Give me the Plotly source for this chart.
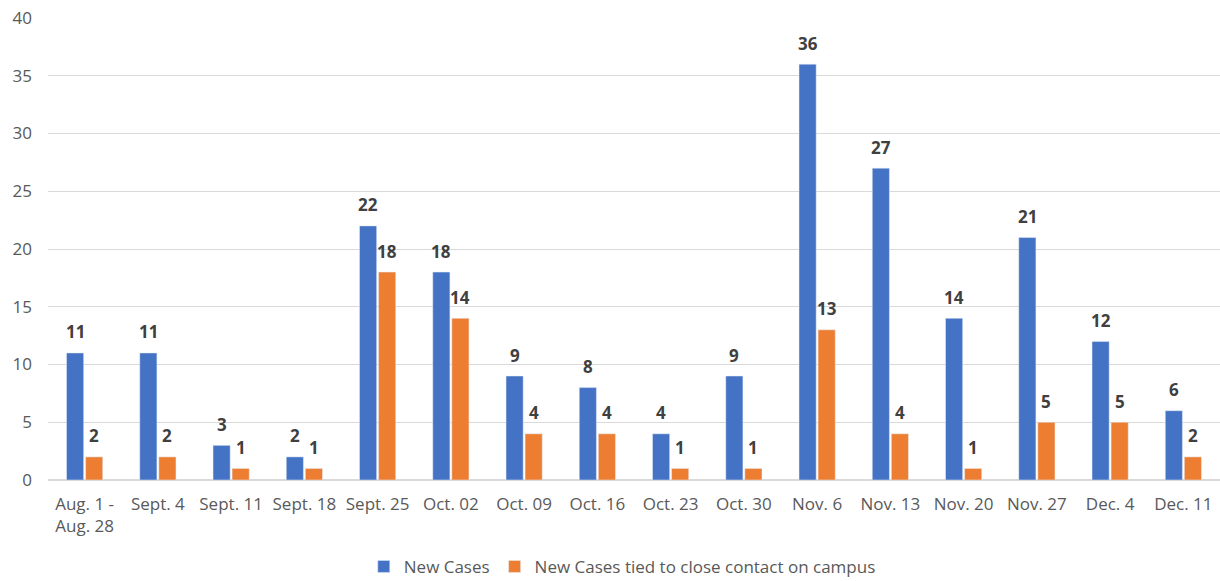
import plotly.graph_objects as go

categories = ["Aug. 1 -<br>Aug. 28", "Sept. 4", "Sept. 11", "Sept. 18", "Sept. 25", "Oct. 02",
              "Oct. 09", "Oct. 16", "Oct. 23", "Oct. 30", "Nov. 6", "Nov. 13", "Nov. 20",
              "Nov. 27", "Dec. 4", "Dec. 11"]
new_cases = [11, 11, 3, 2, 22, 18, 9, 8, 4, 9, 36, 27, 14, 21, 12, 6]
close_contact = [2, 2, 1, 1, 18, 14, 4, 4, 1, 1, 13, 4, 1, 5, 5, 2]
y_ticks = [0, 5, 10, 15, 20, 25, 30, 35, 40]

FONT = "Open Sans"
BLUE = "#4472C4"
ORANGE = "#ED7D31"

fig = go.Figure()
fig.add_bar(x=categories, y=new_cases, name="New Cases", marker_color=BLUE)
fig.add_bar(x=categories, y=close_contact, name="New Cases tied to close contact on campus",
            marker_color=ORANGE)

# data labels above each bar (value taken from the data arrays)
label_font = dict(family=FONT, size=17, color="#404040", weight="bold")
for series, dx in ((new_cases, -9.5), (close_contact, 9.5)):
    for cat, val in zip(categories, series):
        fig.add_annotation(x=cat, y=val, xref="x", yref="y", text=str(val),
                           showarrow=False, xshift=dx, yshift=21, font=label_font)

fig.update_layout(
    width=1220, height=581,
    barmode="group", bargap=0.48, bargroupgap=0.1,
    plot_bgcolor="white", paper_bgcolor="white",
    margin=dict(l=48, r=0, t=18, b=101, autoexpand=False),
    font=dict(family=FONT, size=17, color="#595959"),
    legend=dict(orientation="h", x=0.49, xanchor="center", y=-0.188, yanchor="middle",
                font=dict(family=FONT, size=17, color="#595959"), itemwidth=30),
    showlegend=True,
)
fig.update_yaxes(range=[0, 40], tickvals=y_ticks, showgrid=True, gridcolor="#D9D9D9",
                 gridwidth=1, zeroline=True, zerolinecolor="#D9D9D9", ticks="",
                 tickfont=dict(size=17, color="#595959"), ticklabelstandoff=15,
                 automargin=False)
fig.update_xaxes(showgrid=False, ticks="", tickfont=dict(size=17, color="#595959"),
                 showline=False, ticklabelstandoff=12, automargin=False)

fig.write_html("out.html", config={"displayModeBar": False},
               post_script="document.body.style.margin='0';document.body.style.overflow='hidden';")
